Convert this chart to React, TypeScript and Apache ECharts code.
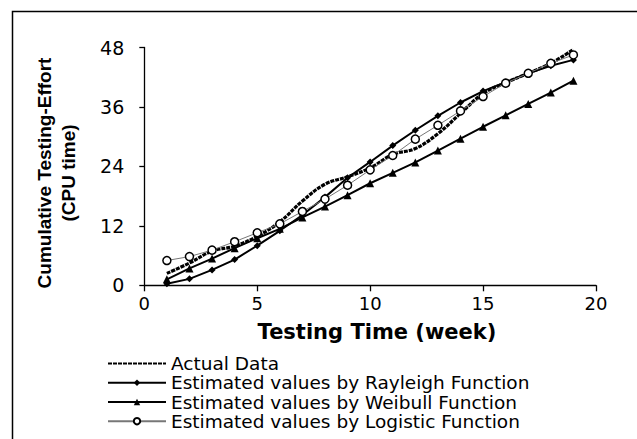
import React, { useEffect, useRef } from "react";
import * as echarts from "echarts";

const weeks = [1, 2, 3, 4, 5, 6, 7, 8, 9, 10, 11, 12, 13, 14, 15, 16, 17, 18, 19];
const actualData = [2.4, 4.5, 6.9, 7.9, 9.9, 12.8, 17.0, 20.4, 21.9, 23.7, 26.4, 27.6, 30.6, 34.7, 38.7, 40.9, 42.8, 44.8, 47.6];
const rayleigh = [0.3, 1.3, 3.1, 5.2, 8.0, 11.0, 14.2, 17.8, 21.7, 24.9, 28.2, 31.3, 34.2, 36.9, 39.2, 41.0, 42.8, 44.3, 45.5];
const weibull = [1.2, 3.4, 5.4, 7.5, 9.5, 11.4, 13.7, 15.9, 18.2, 20.6, 22.7, 24.8, 27.2, 29.6, 32.0, 34.3, 36.6, 38.9, 41.3];
const logistic = [5.0, 5.8, 7.1, 8.8, 10.6, 12.4, 14.9, 17.4, 20.2, 23.3, 26.2, 29.5, 32.3, 35.2, 38.1, 40.8, 42.8, 44.8, 46.5];

const seriesNames = [
  "Actual Data",
  "Estimated values by Rayleigh Function",
  "Estimated values by Weibull Function",
  "Estimated values by Logistic Function",
];
const xTitle = "Testing Time (week)";
const yTitle = "Cumulative Testing-Effort\n(CPU time)";

const pairs = (ys: number[]) => weeks.map((w, i) => [w, ys[i]]);

export default function App() {
  const ref = useRef<HTMLDivElement>(null);
  useEffect(() => {
    if (!ref.current) return;
    const chart = echarts.init(ref.current, null, { renderer: "svg" });
    chart.setOption({
      animation: false,
      backgroundColor: "#ffffff",
      grid: { left: 144.3, right: 41, top: 47.5, bottom: 153.7 },
      xAxis: {
        type: "value",
        min: 0,
        max: 20,
        interval: 5,
        axisLine: { lineStyle: { color: "#000", width: 1.3 } },
        axisTick: { show: true, length: 6, lineStyle: { color: "#000", width: 1.3 } },
        axisLabel: { color: "#000", fontFamily: "DejaVu Sans", fontSize: 18, margin: 9 },
        splitLine: { show: false },
      },
      yAxis: {
        type: "value",
        min: 0,
        max: 48,
        interval: 12,
        axisLine: { show: true, lineStyle: { color: "#000", width: 1.3 } },
        axisTick: { show: true, length: 5, lineStyle: { color: "#000", width: 1.3 } },
        axisLabel: { color: "#000", fontFamily: "DejaVu Sans", fontSize: 19, margin: 20 },
        splitLine: { show: false },
      },
      legend: {
        orient: "vertical",
        left: 107,
        top: 354,
        itemWidth: 58,
        itemHeight: 8,
        itemGap: 0,
        padding: 0,
        textStyle: { color: "#000", fontFamily: "DejaVu Sans", fontSize: 18.5, lineHeight: 19.2, padding: [0, 0, 0, 0] },
        data: [
          { name: seriesNames[0], itemStyle: { opacity: 0 } },
          { name: seriesNames[1] },
          { name: seriesNames[2] },
          { name: seriesNames[3] },
        ],
      },
      graphic: [
        {
          type: "rect",
          shape: { x: 12.5, y: 11.5, width: 700, height: 700 },
          style: { fill: "none", stroke: "#000", lineWidth: 1.5 },
          silent: true,
        },
        {
          type: "text",
          x: 56,
          y: 173,
          rotation: Math.PI / 2,
          style: {
            text: yTitle,
            fill: "#000",
            font: "bold 19px 'Liberation Sans'",
            textAlign: "center",
            textVerticalAlign: "middle",
            lineHeight: 24,
          },
        },
        {
          type: "text",
          x: 377,
          y: 332,
          style: {
            text: xTitle,
            fill: "#000",
            font: "bold 21px 'DejaVu Sans'",
            textAlign: "center",
            textVerticalAlign: "middle",
          },
        },
      ],
      series: [
        {
          name: seriesNames[0],
          type: "line",
          smooth: 0.4,
          symbol: "none",
          data: pairs(actualData),
          lineStyle: { color: "#000", width: 3.2, type: [4, 1] },
          itemStyle: { color: "#000" },
          z: 2,
        },
        {
          name: seriesNames[1],
          type: "line",
          symbol: "diamond",
          symbolSize: 7,
          data: pairs(rayleigh),
          lineStyle: { color: "#000", width: 2 },
          itemStyle: { color: "#000" },
          z: 3,
        },
        {
          name: seriesNames[2],
          type: "line",
          symbol: "triangle",
          symbolSize: 8,
          data: pairs(weibull),
          lineStyle: { color: "#000", width: 2 },
          itemStyle: { color: "#000" },
          z: 3,
        },
        {
          name: seriesNames[3],
          type: "line",
          symbol: "circle",
          symbolSize: 8,
          data: pairs(logistic),
          lineStyle: { color: "#777", width: 1 },
          itemStyle: { color: "#fff", borderColor: "#000", borderWidth: 1.5 },
          z: 4,
        },
      ],
    });
    return () => chart.dispose();
  }, []);
  return (
    <div
      ref={ref}
      style={{ position: "fixed", left: 0, top: 0, width: 637, height: 439, background: "#fff" }}
    />
  );
}
